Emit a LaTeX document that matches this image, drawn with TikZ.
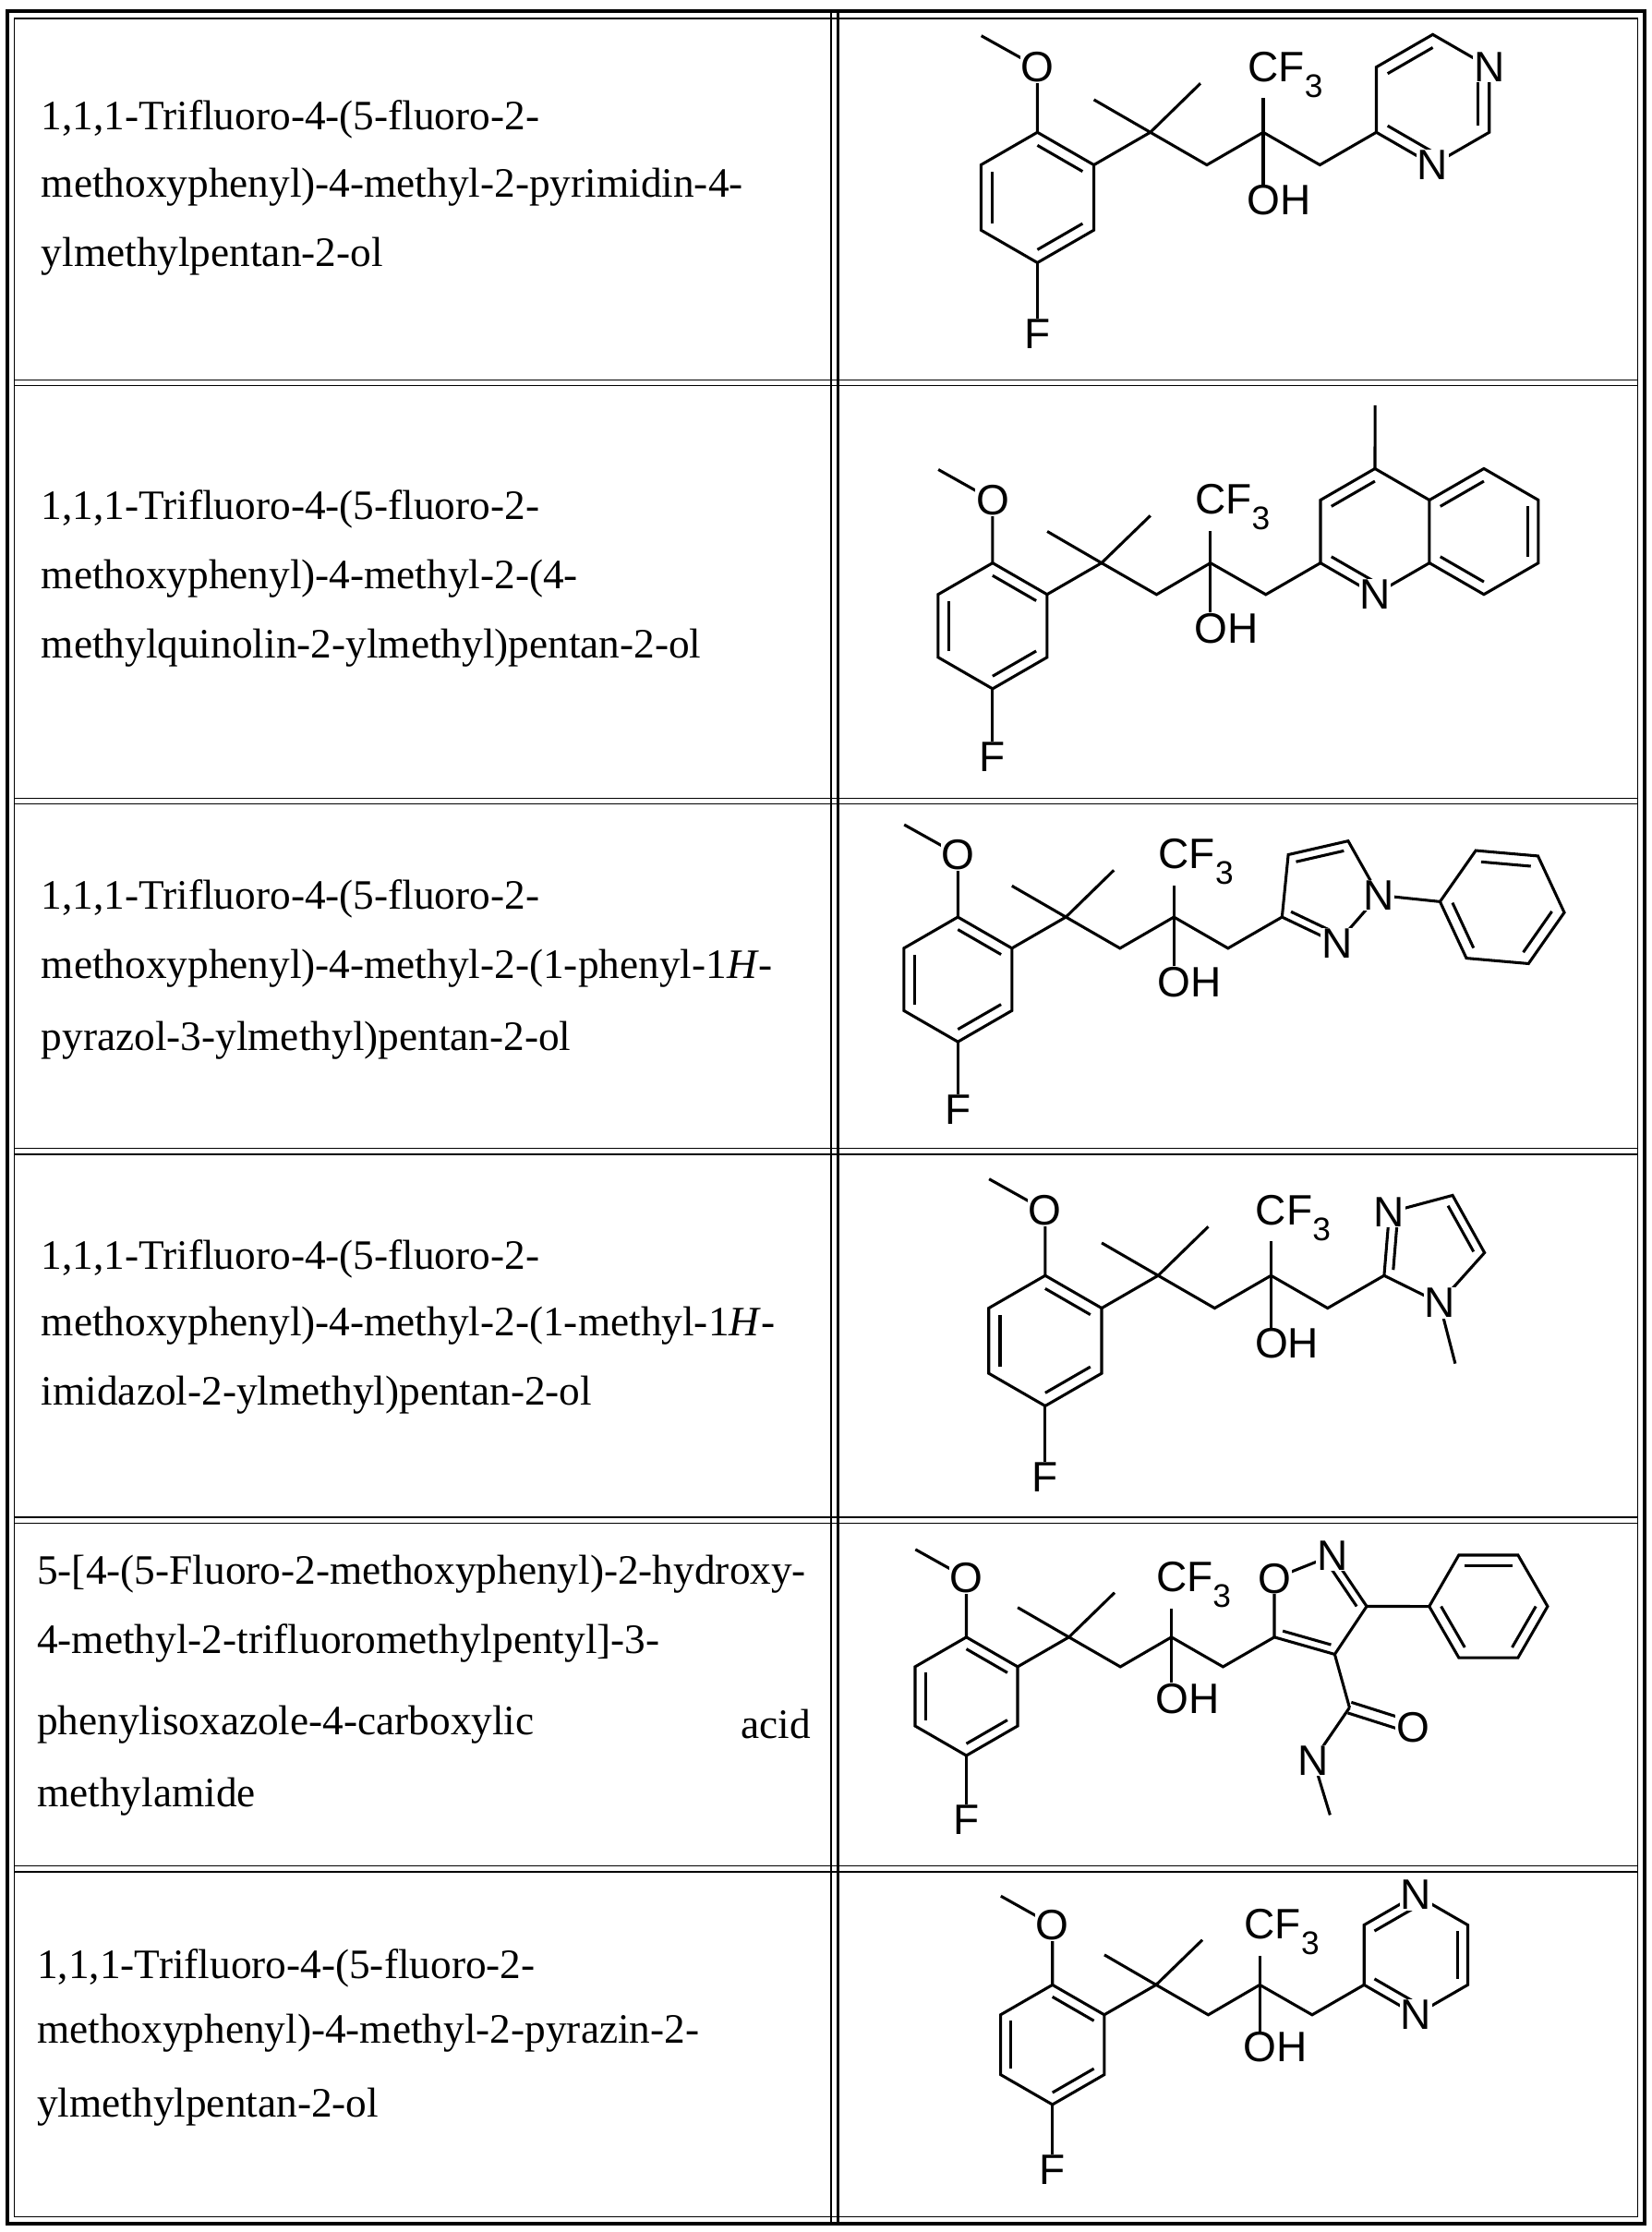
\documentclass[tikz,border=0pt]{standalone}
\usepackage{fontspec}
\setmainfont{Liberation Serif}
\setsansfont{Liberation Sans}
\usetikzlibrary{calc}
\tikzset{
  lab/.style={font=\sffamily\fontsize{30}{30}\selectfont,fill=white,inner sep=0.5pt},
  txt/.style={font=\rmfamily\fontsize{29.5}{34}\selectfont,anchor=west,inner sep=0pt},
  bond/.style={line width=2pt,line join=miter},
}
\newcommand\dbond[3]{\draw[bond] ($(#1)!0.2!(#3)$) -- ($(#2)!0.2!(#3)$);}
\newcommand\subthree{\raisebox{-0.7ex}{\fontsize{23}{23}\selectfont 3}}
\newcommand\core{%
  \coordinate (r0) at (0,0); \coordinate (r1) at (0.866,-0.5);
  \coordinate (r2) at (0.866,-1.5); \coordinate (r3) at (0,-2);
  \coordinate (r4) at (-0.866,-1.5); \coordinate (r5) at (-0.866,-0.5);
  \coordinate (rc) at (0,-1);
  \draw[bond] (r0)--(r1)--(r2)--(r3)--(r4)--(r5)--cycle;
  \dbond{r0}{r1}{rc}\dbond{r2}{r3}{rc}\dbond{r4}{r5}{rc}
  \coordinate (q) at (1.732,0); \coordinate (c2) at (3.464,0);
  \draw[bond] (r1)--(q)--(0.866,0.5);
  \draw[bond] (q)--(2.5,0.75);
  \draw[bond] (q)--(2.598,-0.5)--(c2)--(4.33,-0.5)--(5.196,0);
  \coordinate (ocf) at (3.464,0.95); \coordinate (ooh) at (3.464,-1.04);
  \coordinate (om) at (0,1.0); \coordinate (fl) at (0,-3.09);
  \draw[bond] (c2)--(ocf); \draw[bond] (c2)--(ooh);
  \draw[bond] (r0)--(om)--(-0.86,1.48);
  \draw[bond] (r3)--(fl);
  \node[lab] (Om) at (om) {O};
  \node[lab] (Fl) at (fl) {F};
  \node[lab,anchor=west,xshift=-11.5pt,yshift=-3pt] (CF) at (ocf) {CF\subthree};
  \node[lab,anchor=west,xshift=-12pt] (OH) at (ooh) {OH};
}
\begin{document}
\begin{tikzpicture}[x=1pt,y=-1pt]
\useasboundingbox (0,0) rectangle (1165,1574);
% table
\draw[line width=2.4pt] (5,8) rectangle (1160,1568);
\draw[line width=0.8pt] (10,13) rectangle (1155,1563);
\foreach \yy in {270,565,812,1072,1318}{
  \draw[line width=0.8pt] (10,\yy-2) -- (1155,\yy-2);
  \draw[line width=0.8pt] (10,\yy+2) -- (1155,\yy+2);}
\draw[line width=1.6pt] (586,8) -- (586,1568);
\draw[line width=1.6pt] (591,8) -- (591,1568);
% texts
\node[txt] (t11) at (29,84) {1,1,1-Trifluoro-4-(5-fluoro-2-};
\node[txt] (t12) at (29,132) {methoxyphenyl)-4-methyl-2-pyrimidin-4-};
\node[txt] (t13) at (29,181) {ylmethylpentan-2-ol};
\node[txt] (t21) at (29,359) {1,1,1-Trifluoro-4-(5-fluoro-2-};
\node[txt] (t22) at (29,408) {methoxyphenyl)-4-methyl-2-(4-};
\node[txt] (t23) at (29,457) {methylquinolin-2-ylmethyl)pentan-2-ol};
\node[txt] (t31) at (29,634) {1,1,1-Trifluoro-4-(5-fluoro-2-};
\node[txt] (t32) at (29,683) {methoxyphenyl)-4-methyl-2-(1-phenyl-1\textit{H}-};
\node[txt] (t33) at (29,734) {pyrazol-3-ylmethyl)pentan-2-ol};
\node[txt] (t41) at (29,888) {1,1,1-Trifluoro-4-(5-fluoro-2-};
\node[txt] (t42) at (29,935) {methoxyphenyl)-4-methyl-2-(1-methyl-1\textit{H}-};
\node[txt] (t43) at (29,984) {imidazol-2-ylmethyl)pentan-2-ol};
\node[txt] (t51) at (26,1110) {5-[4-(5-Fluoro-2-methoxyphenyl)-2-hydroxy-};
\node[txt] (t52) at (26,1159) {4-methyl-2-trifluoromethylpentyl]-3-};
\node[txt] (t53) at (26,1216) {phenylisoxazole-4-carboxylic};
\node[txt,anchor=east] (t54) at (572,1216) {acid};
\node[txt] (t55) at (26,1267) {methylamide};
\node[txt] (t61) at (26,1388) {1,1,1-Trifluoro-4-(5-fluoro-2-};
\node[txt] (t62) at (26,1434) {methoxyphenyl)-4-methyl-2-pyrazin-2-};
\node[txt] (t63) at (26,1486) {ylmethylpentan-2-ol};
% Row 1: pyrimidine
\begin{scope}[shift={(731.6,93.3)},xscale=46,yscale=-46]
\core
\begin{scope}[shift={(5.196,0)}]
\coordinate (a0) at (0,0); \coordinate (a1) at (0,1); \coordinate (a2) at (0.866,1.5);
\coordinate (a3) at (1.732,1); \coordinate (a4) at (1.732,0); \coordinate (a5) at (0.866,-0.5);
\coordinate (ac) at (0.866,0.5);
\draw[bond] (a0)--(a1)--(a2)--(a3)--(a4)--(a5)--cycle;
\dbond{a1}{a2}{ac}\dbond{a3}{a4}{ac}\dbond{a0}{a5}{ac}
\node[lab] (n1) at (a3) {N}; \node[lab] (n3) at (a5) {N};
\end{scope}
\end{scope}
% Row 2: quinoline
\begin{scope}[shift={(700,397)},xscale=44.5,yscale=-44.5]
\core
\begin{scope}[shift={(5.196,0)}]
\coordinate (a0) at (0,0); \coordinate (a1) at (0,1); \coordinate (a2) at (0.866,1.5);
\coordinate (a3) at (1.732,1); \coordinate (a4) at (1.732,0); \coordinate (a5) at (0.866,-0.5);
\coordinate (ac) at (0.866,0.5);
\coordinate (b1) at (2.598,1.5); \coordinate (b2) at (3.464,1); \coordinate (b3) at (3.464,0);
\coordinate (b4) at (2.598,-0.5); \coordinate (bc) at (2.598,0.5);
\draw[bond] (a0)--(a1)--(a2)--(a3)--(a4)--(a5)--cycle;
\draw[bond] (a3)--(b1)--(b2)--(b3)--(b4)--(a4);
\draw[bond] (a2)--(0.866,2.5);
\dbond{a0}{a5}{ac}\dbond{a1}{a2}{ac}
\dbond{a3}{b1}{bc}\dbond{b2}{b3}{bc}\dbond{b4}{a4}{bc}
\node[lab] (nq) at (a5) {N};
\end{scope}
\end{scope}
% Row 3: pyrazole + phenyl
\begin{scope}[shift={(675.5,646.7)},xscale=44,yscale=-44]
\core
\begin{scope}[shift={(5.196,0)}]
\coordinate (p0) at (0,0); \coordinate (p1) at (0.1,1.0); \coordinate (p2) at (1.06,1.22);
\coordinate (p3) at (1.55,0.35); \coordinate (p4) at (0.88,-0.42); \coordinate (pc) at (0.72,0.43);
\draw[bond] (p0)--(p1)--(p2)--(p3)--(p4)--cycle;
\dbond{p1}{p2}{pc}\dbond{p0}{p4}{pc}
\coordinate (hc) at (3.53,0.16);
\foreach \i/\ang in {0/175,1/115,2/55,3/-5,4/-65,5/-125}{\coordinate (h\i) at ($(hc)+(\ang:1)$);}
\draw[bond] (h0)--(h1)--(h2)--(h3)--(h4)--(h5)--cycle;
\draw[bond] (p3)--(h0);
\dbond{h1}{h2}{hc}\dbond{h3}{h4}{hc}\dbond{h5}{h0}{hc}
\node[lab] (pn1) at (p3) {N}; \node[lab] (pn2) at (p4) {N};
\end{scope}
\end{scope}
% Row 4: imidazole
\begin{scope}[shift={(737.1,899.5)},xscale=46,yscale=-46]
\core
\begin{scope}[shift={(5.196,0)}]
\coordinate (p0) at (0,0); \coordinate (p1) at (0.08,0.97); \coordinate (p2) at (1.05,1.23);
\coordinate (p3) at (1.54,0.35); \coordinate (p4) at (0.85,-0.42); \coordinate (pc) at (0.7,0.43);
\draw[bond] (p0)--(p1)--(p2)--(p3)--(p4)--cycle;
\draw[bond] (p4)--(1.09,-1.35);
\dbond{p0}{p1}{pc}\dbond{p2}{p3}{pc}
\node[lab] (in3) at (p1) {N}; \node[lab] (in1) at (p4) {N};
\end{scope}
\end{scope}
% Row 5: isoxazole + phenyl + amide
\begin{scope}[shift={(681.5,1154.5)},xscale=41.8,yscale=-41.8]
\core
\begin{scope}[shift={(5.196,0)}]
\coordinate (p0) at (0,0); \coordinate (p1) at (0,0.99); \coordinate (p2) at (0.98,1.38);
\coordinate (p3) at (1.56,0.52); \coordinate (p4) at (1.02,-0.29); \coordinate (pc) at (0.71,0.52);
\draw[bond] (p0)--(p1)--(p2)--(p3)--(p4)--cycle;
\dbond{p0}{p4}{pc}\dbond{p2}{p3}{pc}
\coordinate (hc) at (3.62,0.52);
\foreach \i/\ang in {0/180,1/120,2/60,3/0,4/-60,5/-120}{\coordinate (h\i) at ($(hc)+(\ang:1)$);}
\draw[bond] (h0)--(h1)--(h2)--(h3)--(h4)--(h5)--cycle;
\draw[bond] (p3)--(h0);
\dbond{h1}{h2}{hc}\dbond{h3}{h4}{hc}\dbond{h5}{h0}{hc}
\coordinate (cc) at (1.27,-1.19); \coordinate (co) at (2.34,-1.53);
\coordinate (cn) at (0.66,-2.08);
\draw[bond] (p4)--(cc);
\draw[bond] ($(cc)+(0.03,0.09)$)--($(co)+(0.03,0.09)$);
\draw[bond] ($(cc)+(-0.03,-0.09)$)--($(co)+(-0.03,-0.09)$);
\draw[bond] (cc)--(cn)--(0.94,-3.0);
\node[lab] (xo) at (p1) {O}; \node[lab] (xn) at (p2) {N};
\node[lab] (ao) at (co) {O}; \node[lab] (an) at (cn) {N};
\end{scope}
\end{scope}
% Row 6: pyrazine
\begin{scope}[shift={(742.2,1399.7)},xscale=42.3,yscale=-42.3]
\core
\begin{scope}[shift={(5.196,0)}]
\coordinate (a0) at (0,0); \coordinate (a1) at (0,1); \coordinate (a2) at (0.866,1.5);
\coordinate (a3) at (1.732,1); \coordinate (a4) at (1.732,0); \coordinate (a5) at (0.866,-0.5);
\coordinate (ac) at (0.866,0.5);
\draw[bond] (a0)--(a1)--(a2)--(a3)--(a4)--(a5)--cycle;
\dbond{a1}{a2}{ac}\dbond{a3}{a4}{ac}\dbond{a0}{a5}{ac}
\node[lab] (z4) at (a2) {N}; \node[lab] (z1) at (a5) {N};
\end{scope}
\end{scope}
\end{tikzpicture}
\end{document}
